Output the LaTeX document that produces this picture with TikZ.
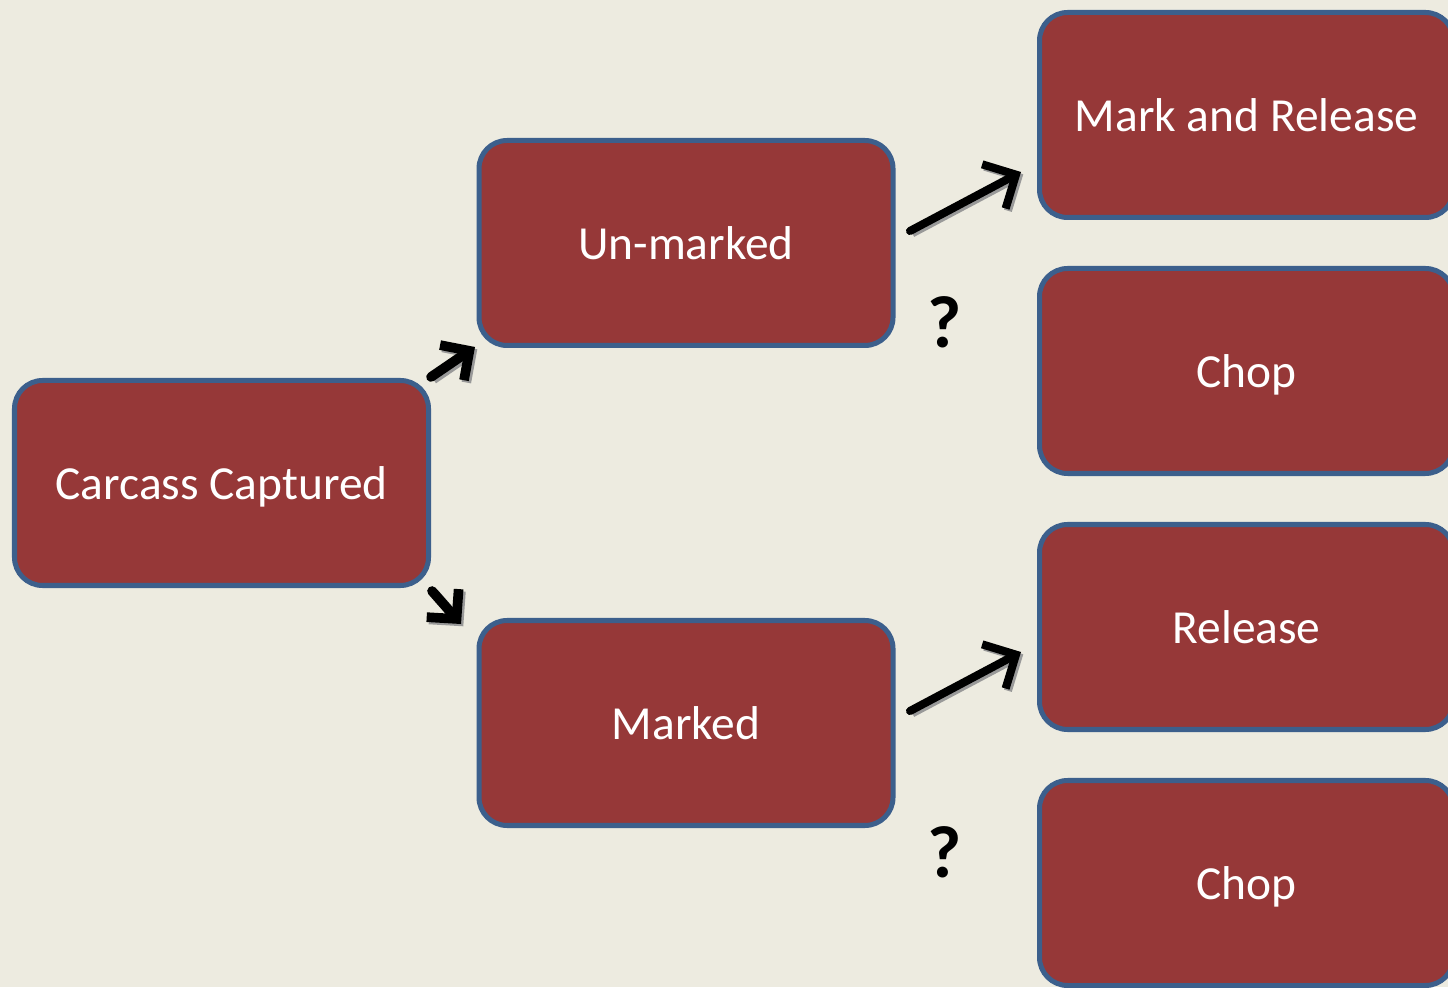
\documentclass[tikz,border=0pt]{standalone}
\usepackage{fontspec}
\setmainfont{Carlito}
\usetikzlibrary{arrows.meta,positioning,calc}
\definecolor{cbg}{RGB}{237,235,224}
\definecolor{cbox}{RGB}{150,56,56}
\definecolor{cedge}{RGB}{60,95,140}

\begin{document}
\begin{tikzpicture}[
    box/.style={draw=cedge, line width=2.85pt, fill=cbox, rounded corners=16pt,
                minimum width=8.28cm, minimum height=4.1cm, text=white,
                text height=25pt, text depth=6pt,
                font=\fontsize{27}{32}\selectfont},
    arr/.style={line width=#1, line cap=round,
                preaction={draw=black!40, line width=#1, transform canvas={shift={(1.3pt,-1.3pt)}}}},
    ask/.style={font=\fontsize{42}{48}\selectfont\bfseries}]
  \fill[cbg] (0,0) rectangle (28.96,19.74);
  \useasboundingbox (0,0) rectangle (28.96,19.74);

  \node[box] (cc) at (4.43,10.08) {Carcass Captured};
  \node[box] (um) at (13.72,14.88) {Un-marked};
  \node[box] (mk) at (13.72,5.28) {Marked};
  \node[box] (mr) at (24.93,17.44) {Mark and Release};
  \node[box] (ch1) at (24.93,12.32) {Chop};
  \node[box] (rl) at (24.93,7.2) {Release};
  \node[box] (ch2) at (24.93,2.08) {Chop};

  \node[ask] (q1) at (18.9,13.3) {?};
  \node[ask] (q2) at (18.9,2.7) {?};

  % arrow ends
  \coordinate (a1s) at (8.62,12.2);
  \coordinate (a1e) at (9.5,12.8);
  \coordinate (a2s) at (8.64,7.92);
  \coordinate (a2e) at (9.22,7.26);
  \coordinate (a3s) at (18.2,15.12);
  \coordinate (a3e) at (20.42,16.3);
  \coordinate (a4s) at (18.2,5.52);
  \coordinate (a4e) at (20.42,6.7);

  \draw[arr=5.5pt, -{Straight Barb[length=4.2mm,width=8.5mm]}] (a1s) -- (a1e);
  \draw[arr=5.5pt, -{Straight Barb[length=4.2mm,width=8.5mm]}] (a2s) -- (a2e);
  \draw[arr=4.6pt, -{Straight Barb[length=5mm,width=10mm]}] (a3s) -- (a3e);
  \draw[arr=4.6pt, -{Straight Barb[length=5mm,width=10mm]}] (a4s) -- (a4e);
\end{tikzpicture}
\end{document}
